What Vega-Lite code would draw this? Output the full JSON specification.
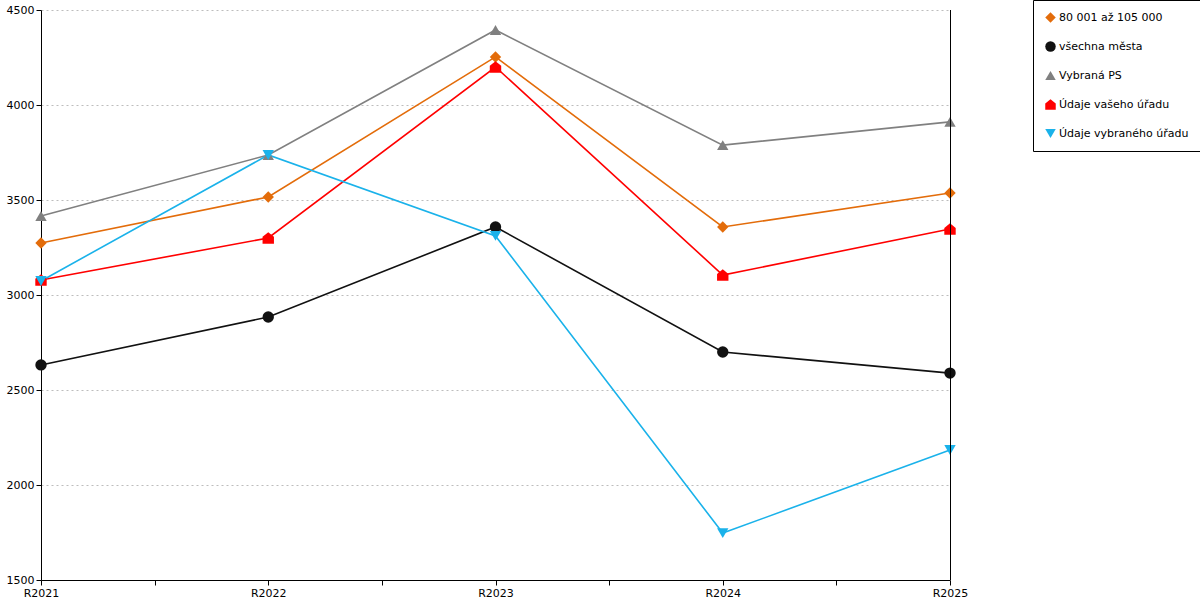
{
  "$schema": "https://vega.github.io/schema/vega-lite/v6.json",
  "width": 909,
  "height": 570,
  "autosize": "none",
  "padding": {"left": 41, "top": 10, "right": 250, "bottom": 20},
  "background": "white",
  "data": {
    "values": [
      {"series": "80 001 až 105 000", "year": 2021, "value": 3274},
      {"series": "80 001 až 105 000", "year": 2022, "value": 3516},
      {"series": "80 001 až 105 000", "year": 2023, "value": 4253},
      {"series": "80 001 až 105 000", "year": 2024, "value": 3358},
      {"series": "80 001 až 105 000", "year": 2025, "value": 3537},
      {"series": "všechna města", "year": 2021, "value": 2632},
      {"series": "všechna města", "year": 2022, "value": 2884},
      {"series": "všechna města", "year": 2023, "value": 3358},
      {"series": "všechna města", "year": 2024, "value": 2700},
      {"series": "všechna města", "year": 2025, "value": 2589},
      {"series": "Vybraná PS", "year": 2021, "value": 3416},
      {"series": "Vybraná PS", "year": 2022, "value": 3737},
      {"series": "Vybraná PS", "year": 2023, "value": 4395},
      {"series": "Vybraná PS", "year": 2024, "value": 3789},
      {"series": "Vybraná PS", "year": 2025, "value": 3911},
      {"series": "Údaje vašeho úřadu", "year": 2021, "value": 3079},
      {"series": "Údaje vašeho úřadu", "year": 2022, "value": 3300},
      {"series": "Údaje vašeho úřadu", "year": 2023, "value": 4200},
      {"series": "Údaje vašeho úřadu", "year": 2024, "value": 3105},
      {"series": "Údaje vašeho úřadu", "year": 2025, "value": 3347},
      {"series": "Údaje vybraného úřadu", "year": 2021, "value": 3074},
      {"series": "Údaje vybraného úřadu", "year": 2022, "value": 3737},
      {"series": "Údaje vybraného úřadu", "year": 2023, "value": 3311},
      {"series": "Údaje vybraného úřadu", "year": 2024, "value": 1747},
      {"series": "Údaje vybraného úřadu", "year": 2025, "value": 2184}
    ]
  },
  "layer": [
    {
      "mark": {"type": "line", "strokeWidth": 1.6},
      "encoding": {
        "x": {
          "field": "year",
          "type": "quantitative",
          "scale": {"domain": [2021, 2025], "nice": false, "zero": false},
          "axis": {
            "title": null,
            "values": [2021, 2021.5, 2022, 2022.5, 2023, 2023.5, 2024, 2024.5, 2025],
            "labelExpr": "datum.value % 1 === 0 ? 'R' + datum.value : ''",
            "grid": false,
            "tickSize": 5,
            "labelPadding": 2,
            "labelFlush": false,
            "labelOverlap": false
          }
        },
        "y": {
          "field": "value",
          "type": "quantitative",
          "scale": {"domain": [1500, 4500], "nice": false, "zero": false},
          "axis": {
            "title": null,
            "values": [1500, 2000, 2500, 3000, 3500, 4000, 4500],
            "format": "d",
            "grid": true,
            "gridDash": [2, 3],
            "gridColor": "#bdbdbd",
            "tickSize": 5,
            "labelPadding": 2,
            "labelFlush": false
          }
        },
        "color": {
          "field": "series",
          "type": "nominal",
          "title": null,
          "scale": {
            "domain": ["80 001 až 105 000", "všechna města", "Vybraná PS", "Údaje vašeho úřadu", "Údaje vybraného úřadu"],
            "range": ["#E36C0A", "#111111", "#808080", "#FF0000", "#1AB2EA"]
          }
        }
      }
    },
    {
      "mark": {"type": "point", "filled": true, "opacity": 1, "size": 130},
      "encoding": {
        "x": {"field": "year", "type": "quantitative"},
        "y": {"field": "value", "type": "quantitative"},
        "color": {"field": "series", "type": "nominal"},
        "shape": {
          "field": "series",
          "type": "nominal",
          "title": null,
          "scale": {
            "domain": ["80 001 až 105 000", "všechna města", "Vybraná PS", "Údaje vašeho úřadu", "Údaje vybraného úřadu"],
            "range": ["diamond", "circle", "triangle-up", "M-1,1L1,1L1,-0.2L0,-1L-1,-0.2Z", "triangle-down"]
          }
        }
      }
    },
    {
      "data": {"values": [{"edge": 2025}]},
      "mark": {"type": "rule", "stroke": "#000000", "strokeWidth": 1, "xOffset": 0.5},
      "encoding": {
        "x": {"field": "edge", "type": "quantitative"},
        "y": {"datum": 1500},
        "y2": {"datum": 4500}
      }
    }
  ],
  "config": {
    "view": {"stroke": null},
    "font": "DejaVu Sans",
    "axis": {
      "domainColor": "black",
      "tickColor": "black",
      "labelColor": "black",
      "labelFont": "DejaVu Sans",
      "labelFontSize": 11
    },
    "legend": {
      "orient": "none",
      "legendX": 992,
      "legendY": -10,
      "strokeColor": "black",
      "fillColor": "white",
      "padding": 12,
      "rowPadding": 17,
      "symbolSize": 110,
      "symbolStrokeWidth": 0,
      "labelFont": "DejaVu Sans",
      "labelFontSize": 11,
      "labelColor": "black",
      "labelOffset": 3,
      "labelLimit": 300
    }
  }
}
